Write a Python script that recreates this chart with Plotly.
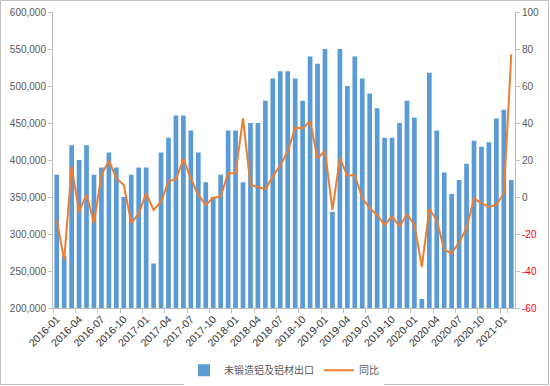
import plotly.graph_objects as go

months = [f"{y}-{m:02d}" for y in range(2016, 2022) for m in range(1, 13)][:62]

exports = [380000, 270000, 420000, 400000, 420000, 380000, 390000, 410000, 390000, 350000,
           380000, 390000, 390000, 260000, 410000, 430000, 460000, 460000, 440000, 410000,
           370000, 350000, 380000, 440000, 440000, 370000, 450000, 450000, 480000, 510000,
           520000, 520000, 510000, 480000, 540000, 530000, 550000, 330000, 550000, 500000,
           540000, 510000, 490000, 470000, 430000, 430000, 450000, 480000, 457000, 212000,
           518000, 440000, 383000, 354000, 373000, 395000, 426000, 418000, 424000, 456000,
           468000, 373000]

yoy = [-12.4, -34, 16.4, -8, 1.4, -14, 12, 19.6, 10, 6.5,
       -14, -9, 2, -7, -2.5, 8.3, 9.7, 20.5, 10, 1,
       -4.3, -0.4, 0.2, 12.8, 12.8, 42.5, 6.5, 5.6, 4.3, 11,
       17.3, 24.5, 37.5, 37.1, 41, 20.9, 24.9, -7, 20.9, 11.5,
       11.9, -0.7, -6.1, -9.7, -15.1, -10.6, -15.8, -9.4, -15.1, -37.7,
       -6.5, -12.4, -28.6, -30.5, -24.5, -16.9, -0.7, -3.4, -5.2, -4.3,
       2, 77.1]

left_ticks = [200000, 250000, 300000, 350000, 400000, 450000, 500000, 550000, 600000]
right_ticks = [-60, -40, -20, 0, 20, 40, 60, 80, 100]

grey = "#595959"
num_font = "Liberation Sans, Arial, sans-serif"
right_text = [f"<span style='color:#FF0000'>{v}</span>" if v < 0 else str(v) for v in right_ticks]

fig = go.Figure()
fig.add_trace(go.Bar(x=months, y=exports, name="未锻造铝及铝材出口",
                     marker=dict(color="#5B9BD5"), yaxis="y"))
fig.add_trace(go.Scatter(x=months, y=yoy, name="同比", mode="lines",
                         line=dict(color="#ED7D31", width=2), yaxis="y2"))

fig.update_layout(
    template="none",
    width=550, height=386,
    margin=dict(l=53, r=35, t=12, b=78, autoexpand=False),
    paper_bgcolor="white", plot_bgcolor="white",
    font=dict(family="Noto Sans CJK SC, Noto Sans, sans-serif", size=10, color=grey),
    bargap=0.37,
    showlegend=True,
    legend=dict(orientation="h", x=0.5, xanchor="center", y=-0.21, yanchor="middle",
                font=dict(size=10, color=grey), traceorder="normal"),
    xaxis=dict(type="category", tickmode="array", tickvals=months[::3],
               ticktext=months[::3], tickangle=-45, showgrid=False, automargin=False,
               showline=True, linecolor="#BFBFBF", ticks="outside", ticklen=4,
               tickcolor="#BFBFBF", tickson="boundaries",
               tickfont=dict(family=num_font, size=10.5, color="#333333"), range=[-0.5, 61.5]),
    yaxis=dict(range=[200000, 600000], tickvals=left_ticks, automargin=False,
               ticktext=[f"{v:,}" for v in left_ticks], showgrid=False,
               showline=True, linecolor="#BFBFBF", ticks="outside", ticklen=4,
               tickcolor="#BFBFBF", tickfont=dict(family=num_font, size=10, color=grey),
               zeroline=False),
    yaxis2=dict(range=[-60, 100], tickvals=right_ticks, ticktext=right_text, automargin=False,
                overlaying="y", side="right", showgrid=False, showline=True,
                linecolor="#BFBFBF", ticks="outside", ticklen=4, tickcolor="#BFBFBF",
                tickfont=dict(family=num_font, size=10, color=grey), zeroline=False),
    shapes=[dict(type="rect", xref="paper", yref="paper",
                 x0=-52.5 / 462, x1=495.5 / 462, y0=-76.5 / 296, y1=11.5 / 296 + 1,
                 line=dict(color="#BFBFBF", width=1), fillcolor="rgba(0,0,0,0)", layer="below")],
)

fig.write_html("out.html", config={"displayModeBar": False},
               post_script="document.body.style.margin='0';")
